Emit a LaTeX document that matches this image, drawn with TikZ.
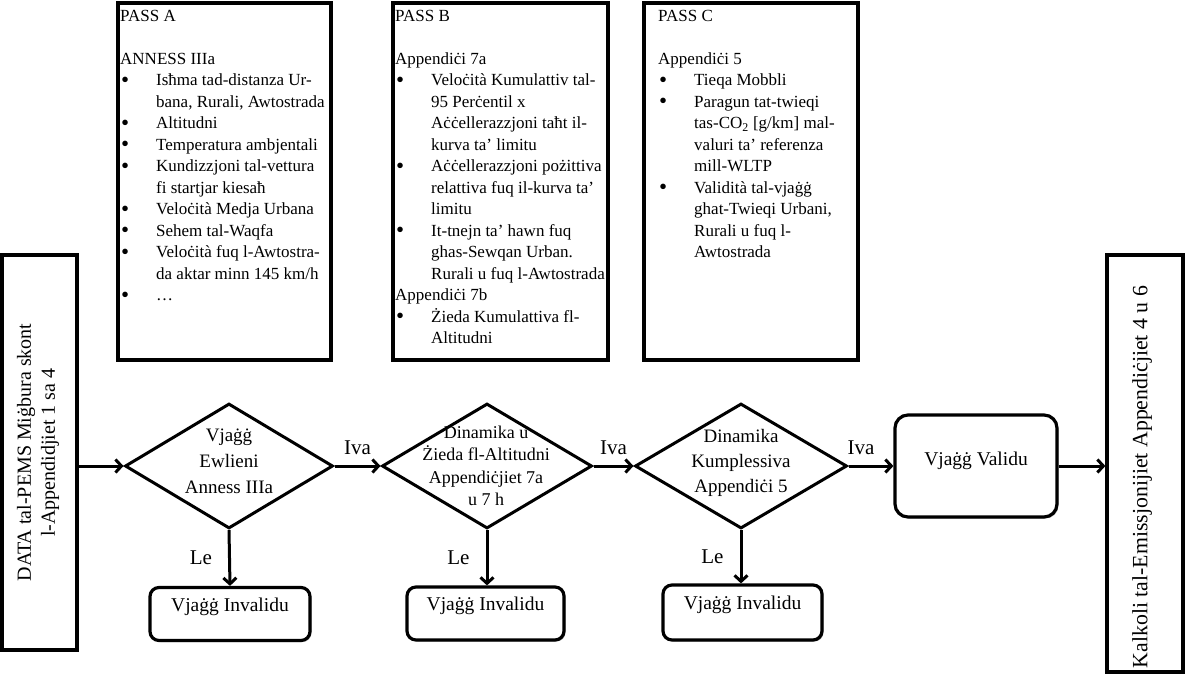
\documentclass[tikz,border=0pt]{standalone}
\usepackage{fontspec}
\setmainfont{Liberation Serif}
\usetikzlibrary{shapes.geometric,arrows.meta,shadows}
\newcommand\bitem[1]{\makebox[36pt][l]{\hspace*{1pt}\raisebox{-1.5pt}{\fontsize{23}{23}\selectfont\textbullet}}#1}
\newcommand\cont[1]{\hspace*{36pt}#1}
\begin{document}
\begin{tikzpicture}[x=1pt,y=-1pt,
  shd/.style={drop shadow={shadow xshift=1.5pt,shadow yshift=-1.5pt,fill=black,opacity=0.3}},
  box/.style={draw, line width=3.2pt, fill=white, inner sep=0pt, shd},
  rbox/.style={draw, line width=3.2pt, fill=white, rounded corners=9pt, inner sep=0pt, shd,
    font=\fontsize{19.5}{22}\selectfont},
  dia/.style={diamond, draw, line width=3pt, fill=white, inner sep=0pt, minimum height=125pt},
  dtxt/.style={align=center, inner sep=0pt, font=\fontsize{19}{26}\selectfont},
  passtxt/.style={align=left, inner sep=0pt, anchor=north west, font=\fontsize{17}{21.5}\selectfont},
  lbl/.style={inner sep=0pt, font=\fontsize{21}{24}\selectfont},
  arr/.style={line width=3pt, -{Straight Barb[length=6pt,width=13pt]}}
]
\useasboundingbox (0,0) rectangle (1186,681);

% top pass boxes
\node[box, minimum width=213pt, minimum height=357pt] (pa) at (224.5,181.5) {};
\node[box, minimum width=215pt, minimum height=357pt] (pb) at (500.5,181.5) {};
\node[box, minimum width=214pt, minimum height=357pt] (pc) at (751,181.5) {};

\node[passtxt] (ta) at (120,10) {PASS A\\ \mbox{}\\ ANNESS IIIa\\
 \bitem{Isħma tad-distanza Ur-}\\ \cont{bana, Rurali, Awtostrada}\\
 \bitem{Altitudni}\\ \bitem{Temperatura ambjentali}\\
 \bitem{Kundizzjoni tal-vettura}\\ \cont{fi startjar kiesaħ}\\
 \bitem{Veloċità Medja Urbana}\\ \bitem{Sehem tal-Waqfa}\\
 \bitem{Veloċità fuq l-Awtostra-}\\ \cont{da aktar minn 145 km/h}\\
 \bitem{\dots}};

\node[passtxt] (tb) at (395,10) {PASS B\\ \mbox{}\\ Appendiċi 7a\\
 \bitem{Veloċità Kumulattiv tal-}\\ \cont{95 Perċentil x}\\
 \cont{Aċċellerazzjoni taħt il-}\\ \cont{kurva ta’ limitu}\\
 \bitem{Aċċellerazzjoni pożittiva}\\ \cont{relattiva fuq il-kurva ta’}\\ \cont{limitu}\\
 \bitem{It-tnejn ta’ hawn fuq}\\ \cont{ghas-Sewqan Urban.}\\ \cont{Rurali u fuq l-Awtostrada}\\
 Appendiċi 7b\\
 \bitem{Żieda Kumulattiva fl-}\\ \cont{Altitudni}};

\node[passtxt] (tc) at (658,10) {PASS C\\ \mbox{}\\ Appendiċi 5\\
 \bitem{Tieqa Mobbli}\\
 \bitem{Paragun tat-twieqi}\\ \cont{tas-CO\textsubscript{2} [g/km] mal-}\\ \cont{valuri ta’ referenza}\\ \cont{mill-WLTP}\\
 \bitem{Validità tal-vjaġġ}\\ \cont{ghat-Twieqi Urbani,}\\ \cont{Rurali u fuq l-}\\ \cont{Awtostrada}};

% side boxes
\node[box, minimum width=75pt, minimum height=395pt] (data) at (39.5,452.5) {};
\node[rotate=90, align=center, inner sep=0pt, font=\fontsize{20}{24}\selectfont] (datatxt) at (38,452.5)
  {DATA tal-PEMS Miġbura skont\\ l-Appendidjiet 1 sa 4};
\node[box, minimum width=76pt, minimum height=417pt] (kalk) at (1145,463.5) {};
\node[rotate=90, inner sep=0pt, font=\fontsize{21.8}{24}\selectfont] (kalktxt) at (1142,477)
  {Kalkoli tal-Emissjonijiet Appendiċjiet 4 u 6};

% diamonds
\node[dia, minimum width=208pt] (d1) at (229,466) {};
\node[dtxt] (t1) at (229,461) {Vjaġġ\\ Ewlieni\\ Anness IIIa};
\node[dia, minimum width=210pt] (d2) at (487,466) {};
\node[dtxt, font=\fontsize{18}{22.5}\selectfont] (t2) at (486,466) {Dinamika u\\ Żieda fl-Altitudni\\ Appendiċjiet 7a\\ u 7 h};
\node[dia, minimum width=212pt] (d3) at (741,466) {};
\node[dtxt, font=\fontsize{19}{25}\selectfont] (t3) at (741,463) {Dinamika\\ Kumplessiva\\ Appendiċi 5};

% result boxes
\node[rbox, minimum width=160pt, minimum height=53pt, text height=14pt, text depth=20pt] (inv1) at (230,614) {Vjaġġ Invalidu};
\node[rbox, minimum width=157pt, minimum height=53pt, text height=14pt, text depth=20pt] (inv2) at (485.5,613.5) {Vjaġġ Invalidu};
\node[rbox, minimum width=159pt, minimum height=55pt, text height=14pt, text depth=20pt] (inv3) at (742.5,612.5) {Vjaġġ Invalidu};
\node[rbox, rounded corners=13pt, minimum width=162pt, minimum height=102pt, text height=14pt, text depth=16pt] (valid) at (976,466) {Vjaġġ Validu};

% connectors
\draw[arr] (data.east |- d1.west) -- (d1.west);
\draw[arr] (d1.east) -- node[lbl, above=10pt] (iva1) {Iva} (d2.west);
\draw[arr] (d2.east) -- node[lbl, above=10pt] (iva2) {Iva} (d3.west);
\draw[arr] (d3.east) -- node[lbl, above=10pt, xshift=-10pt] (iva3) {Iva} (valid.west);
\draw[arr] (valid.east) -- (valid.east -| kalk.west);
\draw[arr] (d1.south) -- node[lbl, left=16pt] (le1) {Le} (inv1.north);
\draw[arr] (d2.south) -- node[lbl, left=16pt] (le2) {Le} (d2.south |- inv2.north);
\draw[arr] (d3.south) -- node[lbl, left=16pt] (le3) {Le} (d3.south |- inv3.north);
\end{tikzpicture}
\end{document}
